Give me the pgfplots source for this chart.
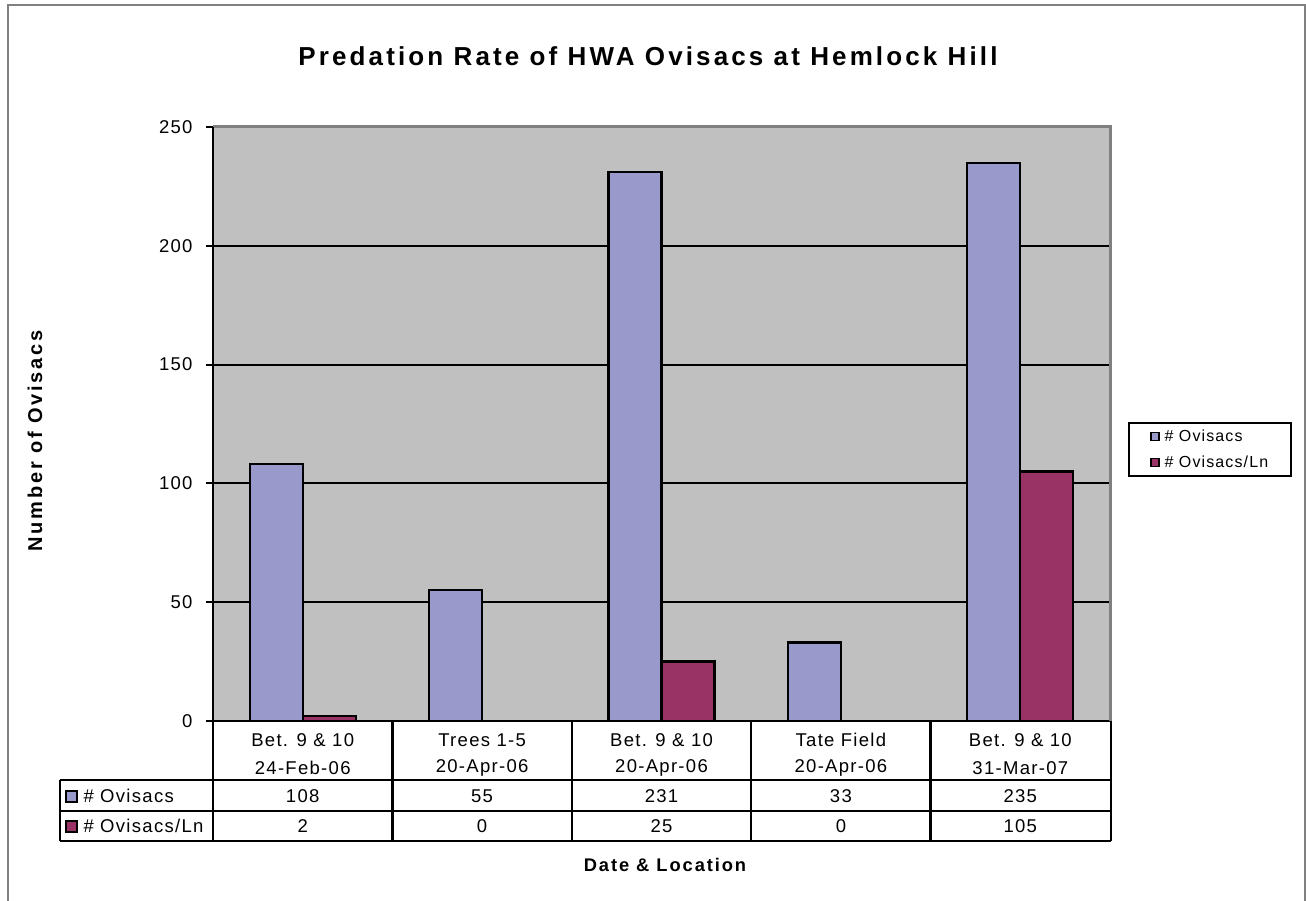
\documentclass[border=0pt]{standalone}
\usepackage{pgfplots}
\pgfplotsset{compat=1.18}
\usepackage{fontspec}
\setmainfont{Liberation Sans}
\newfontfamily\spA[LetterSpace=7]{Liberation Sans}
\newfontfamily\spT[LetterSpace=12]{Liberation Sans}
\newfontfamily\spY[LetterSpace=14]{Liberation Sans}
\newfontfamily\spX[LetterSpace=10.5]{Liberation Sans}
\definecolor{ovblue}{HTML}{9999CC}
\definecolor{ovred}{HTML}{993366}
\definecolor{plotgray}{HTML}{C0C0C0}
\definecolor{framegray}{HTML}{808080}
\begin{document}
\begin{tikzpicture}
\path[use as bounding box] (0pt,0pt) rectangle (1306pt,901pt);
\begin{axis}[
  at={(213pt,180pt)}, anchor=south west,
  scale only axis, width=897pt, height=594pt,
  xmin=-0.5, xmax=4.5, ymin=0, ymax=250,
  ytick={0,50,...,250}, xtick=\empty, ytick pos=left,
  ymajorgrids, grid style={black, line width=2pt},
  axis background/.style={fill=plotgray},
  axis line style={draw=none},
  tick align=outside, major tick length=7pt,
  ytick style={black, line width=2pt},
  yticklabel style={font=\spA\fontsize{18.5}{22}\selectfont, /pgf/number format/assume math mode=true, xshift=-10pt},
  ybar, bar width=0.295,
  legend image code/.code={\draw[#1, line width=1.5pt] (0pt,-4pt) rectangle (8pt,4pt);},
  clip=false,
  legend style={at={(1.0201,0.457)}, anchor=west, draw=black, line width=2pt, fill=white,
    font=\spA\fontsize{16}{19}\selectfont, row sep=9pt, column sep=3pt, inner xsep=21pt, inner ysep=5pt},
  legend cell align=left,
]
\addplot[fill=ovblue, draw=black, line width=2.2pt, bar shift=-0.1475]
  coordinates {(0,108) (1,55) (2,231) (3,33) (4,235)};
\addplot[fill=ovred, draw=black, line width=2.2pt, bar shift=0.1475]
  coordinates {(0,2) (1,0) (2,25) (3,0) (4,105)};
\legend{\# Ovisacs, \# Ovisacs/Ln}
\draw[framegray, line width=3pt] (rel axis cs:0,1) -- (rel axis cs:1,1) -- (rel axis cs:1,0);
\draw[black, line width=2.5pt] (rel axis cs:0,0) -- (rel axis cs:0,1);
\end{axis}
\begin{scope}[x=1pt,y=1pt]
  % outer border
  \draw[framegray, line width=2pt] (8.3,0) -- (8.3,896) -- (1304.5,896) -- (1304.5,0);
  % title and labels
  \node[anchor=base, font=\spT\bfseries\fontsize{26}{31}\selectfont] at (648,835.5) {Predation Rate of HWA Ovisacs at Hemlock Hill};
  \node[rotate=90, font=\spY\bfseries\fontsize{20}{24}\selectfont] at (35,460) {Number of Ovisacs};
  \node[font=\spX\bfseries\fontsize{18.3}{22}\selectfont] at (665,36) {Date \& Location};
  % data table lines
  \foreach \xx in {213,392.4,571.8,751.2,930.6,1111} {\draw[black, line width=2.5pt] (\xx,180) -- (\xx,60);}
  \foreach \yy in {121,90,60} {\draw[black, line width=2.5pt] (60,\yy) -- (1111,\yy);}
  \draw[black, line width=2.5pt] (60,121) -- (60,60);
  % table keys
  \draw[fill=ovblue, line width=2pt] (66,99) rectangle (77,110);
  \draw[fill=ovred, line width=2pt] (66,69) rectangle (77,80);
  \node[anchor=west, font=\spA\fontsize{18.5}{22}\selectfont] at (80,105) {\# Ovisacs};
  \node[anchor=west, font=\spA\fontsize{18.5}{22}\selectfont] at (80,75) {\# Ovisacs/Ln};
  % categories and values
  \begin{scope}[every node/.style={font=\spA\fontsize{18.5}{22}\selectfont}]
  \node at (302.7,161) {Bet. 9 \& 10};  \node at (302.7,133) {24-Feb-06};
  \node at (482.1,161) {Trees 1-5};     \node at (482.1,133) {20-Apr-06};
  \node at (661.5,161) {Bet. 9 \& 10};  \node at (661.5,133) {20-Apr-06};
  \node at (840.9,161) {Tate Field};    \node at (840.9,133) {20-Apr-06};
  \node at (1020.3,161) {Bet. 9 \& 10}; \node at (1020.3,133) {31-Mar-07};
  \node at (302.7,105) {108}; \node at (482.1,105) {55}; \node at (661.5,105) {231}; \node at (840.9,105) {33}; \node at (1020.3,105) {235};
  \node at (302.7,75) {2}; \node at (482.1,75) {0}; \node at (661.5,75) {25}; \node at (840.9,75) {0}; \node at (1020.3,75) {105};
  \end{scope}
\end{scope}
\end{tikzpicture}
\end{document}
